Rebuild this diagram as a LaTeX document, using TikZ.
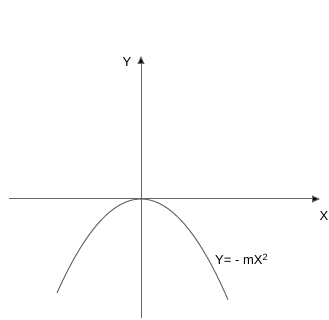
\documentclass[tikz,border=0pt]{standalone}
\usepackage{fontspec}
\setmainfont{Liberation Sans}
\usetikzlibrary{arrows.meta,positioning}

\begin{document}
\begin{tikzpicture}[x=1pt,y=-1pt]

			\useasboundingbox (0,0) rectangle (329,320);

			\tikzset{axis/.style={draw=black!60,line width=1pt,-{Triangle[length=8pt,width=7pt,fill=black]}},
				curve/.style={draw=black!60,line width=1pt},
				lab/.style={font=\fontsize{13}{15}\selectfont,inner sep=0pt}}

			\coordinate (o) at (141,199);
			\coordinate (xs) at (9,199);
			\coordinate (xe) at (320,199);
			\coordinate (ys) at (141,318);
			\coordinate (ye) at (141,56);

			\draw[axis] (xs) -- (xe);
			\draw[axis] (ys) -- (ye);

			\node[lab] (ylab) at (127,62) {Y};
			\node[lab,anchor=east] (xlab) at (328.5,216) {X};

			\draw[curve,domain=-84:87,samples=60] plot ({141+\x},{199+0.0133*\x*\x});

			\node[lab,anchor=west] (eq) at (215,259) {Y= - mX\textsuperscript{2}};

		\end{tikzpicture}
\end{document}
